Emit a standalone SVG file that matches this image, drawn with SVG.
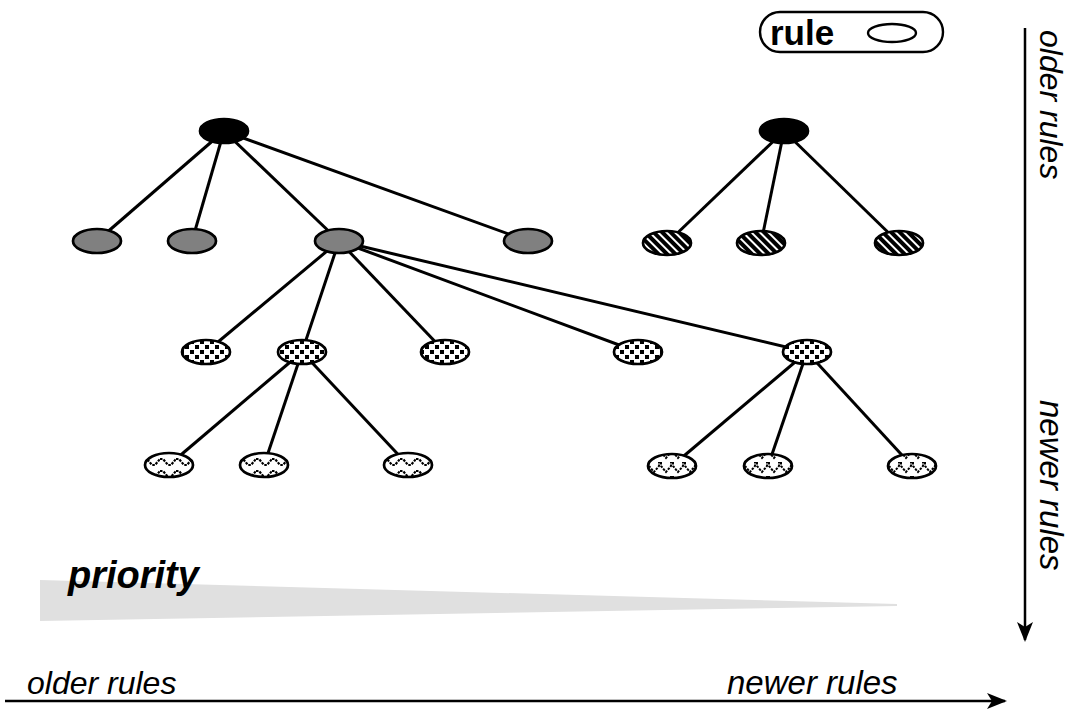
<svg xmlns="http://www.w3.org/2000/svg" width="1070" height="709" viewBox="0 0 1070 709">
<style>
.edge{stroke:#000;stroke-width:3;fill:none}
.n{stroke:#000;stroke-width:2.7}
.lbl{font-family:"Liberation Sans",Arial,sans-serif;font-style:italic;font-size:32px;fill:#000}
</style>
<defs>
<pattern id="hatch" width="6" height="6" patternUnits="userSpaceOnUse" patternTransform="rotate(-45)">
<rect width="6" height="6" fill="#000"/>
<rect x="0" width="2" height="6" fill="#fff"/>
</pattern>
<pattern id="checker" width="10" height="10" patternUnits="userSpaceOnUse">
<rect width="10" height="10" fill="#fff"/>
<rect x="0" y="0" width="4" height="4" fill="#000"/>
<rect x="5" y="5" width="4" height="4" fill="#000"/>
</pattern>
<pattern id="wave" width="16" height="12" patternUnits="userSpaceOnUse">
<rect width="16" height="12" fill="#fff"/>
<path d="M0,3 L3,3 L8,9 L11,9 L16,3" stroke="#000" stroke-width="2.2" fill="none" stroke-dasharray="2.5 1.2"/>
</pattern>
<pattern id="vee" width="12" height="14" patternUnits="userSpaceOnUse">
<rect width="12" height="14" fill="#fff"/>
<path d="M1,0 V4 L6,10 L11,4 V0" stroke="#000" stroke-width="2" fill="none" stroke-dasharray="2.5 1.2"/>
</pattern>
<marker id="arr" viewBox="0 0 20 20" refX="18" refY="10" markerWidth="20" markerHeight="20" markerUnits="userSpaceOnUse" orient="auto">
<path d="M0,2 L20,10 L0,18 L5,10 Z" fill="#000"/>
</marker>
</defs>
<rect width="1070" height="709" fill="#fff"/>

<g id="priority">
<polygon points="40,580 897,604 897,606 40,621" fill="#e0e0e0"/>
<text x="68" y="588" style="font-family:'Liberation Sans',Arial,sans-serif;font-weight:bold;font-style:italic;font-size:38px">priority</text>
</g>

<g id="connectors">
<line class="edge" x1="224" y1="131" x2="97" y2="241"/>
<line class="edge" x1="224" y1="131" x2="192" y2="241"/>
<line class="edge" x1="224" y1="131" x2="339" y2="241"/>
<line class="edge" x1="224" y1="131" x2="528" y2="241"/>
<line class="edge" x1="784" y1="131" x2="667" y2="243"/>
<line class="edge" x1="784" y1="131" x2="761" y2="243"/>
<line class="edge" x1="784" y1="131" x2="899" y2="243"/>
<line class="edge" x1="339" y1="241" x2="206" y2="352"/>
<line class="edge" x1="339" y1="241" x2="302" y2="352"/>
<line class="edge" x1="339" y1="241" x2="445" y2="352"/>
<line class="edge" x1="339" y1="241" x2="638" y2="352"/>
<line class="edge" x1="339" y1="241" x2="807" y2="352"/>
<line class="edge" x1="302" y1="352" x2="169" y2="465"/>
<line class="edge" x1="302" y1="352" x2="264" y2="465"/>
<line class="edge" x1="302" y1="352" x2="408" y2="465"/>
<line class="edge" x1="807" y1="352" x2="672" y2="466"/>
<line class="edge" x1="807" y1="352" x2="768" y2="466"/>
<line class="edge" x1="807" y1="352" x2="912" y2="466"/>
</g>

<g id="root1"><ellipse class="n" cx="224" cy="131" rx="24" ry="12" fill="#000"/></g>
<g id="root2"><ellipse class="n" cx="784" cy="131" rx="24" ry="12" fill="#000"/></g>

<g id="g1"><ellipse class="n" cx="97" cy="241" rx="24" ry="12" fill="#808080"/></g>
<g id="g2"><ellipse class="n" cx="192" cy="241" rx="24" ry="12" fill="#808080"/></g>
<g id="g3"><ellipse class="n" cx="339" cy="241" rx="24" ry="12" fill="#808080"/></g>
<g id="g4"><ellipse class="n" cx="528" cy="241" rx="24" ry="12" fill="#808080"/></g>

<g id="h1"><ellipse class="n" cx="667" cy="243" rx="24" ry="12" fill="url(#hatch)"/></g>
<g id="h2"><ellipse class="n" cx="761" cy="243" rx="24" ry="12" fill="url(#hatch)"/></g>
<g id="h3"><ellipse class="n" cx="899" cy="243" rx="24" ry="12" fill="url(#hatch)"/></g>

<g id="c1"><ellipse class="n" cx="206" cy="352" rx="24" ry="12" fill="url(#checker)"/></g>
<g id="c2"><ellipse class="n" cx="302" cy="352" rx="24" ry="12" fill="url(#checker)"/></g>
<g id="c3"><ellipse class="n" cx="445" cy="352" rx="24" ry="12" fill="url(#checker)"/></g>
<g id="c4"><ellipse class="n" cx="638" cy="352" rx="24" ry="12" fill="url(#checker)"/></g>
<g id="c5"><ellipse class="n" cx="807" cy="352" rx="24" ry="12" fill="url(#checker)"/></g>

<g id="w1"><ellipse class="n" cx="169" cy="465" rx="24" ry="12" fill="url(#wave)"/></g>
<g id="w2"><ellipse class="n" cx="264" cy="465" rx="24" ry="12" fill="url(#wave)"/></g>
<g id="w3"><ellipse class="n" cx="408" cy="465" rx="24" ry="12" fill="url(#wave)"/></g>

<g id="v1"><ellipse class="n" cx="672" cy="466" rx="24" ry="12" fill="url(#vee)"/></g>
<g id="v2"><ellipse class="n" cx="768" cy="466" rx="24" ry="12" fill="url(#vee)"/></g>
<g id="v3"><ellipse class="n" cx="912" cy="466" rx="24" ry="12" fill="url(#vee)"/></g>

<g id="legend">
<rect x="760" y="12" width="183" height="40" rx="20" ry="20" fill="#fff" stroke="#000" stroke-width="2.4"/>
<text x="770" y="45" style="font-family:'Liberation Sans',Arial,sans-serif;font-weight:bold;font-size:35px">rule</text>
<ellipse cx="892" cy="33" rx="24" ry="9" fill="#fff" stroke="#000" stroke-width="2.4"/>
</g>

<g id="axes">
<line x1="1025" y1="28" x2="1025" y2="640" stroke="#000" stroke-width="2.5" marker-end="url(#arr)"/>
<line x1="5" y1="701" x2="1005" y2="701" stroke="#000" stroke-width="2.5" marker-end="url(#arr)"/>
<text class="lbl" x="27" y="694">older rules</text>
<text class="lbl" x="727" y="694" style="font-size:33px">newer rules</text>
<text class="lbl" transform="translate(1040,30) rotate(90)">older rules</text>
<text class="lbl" transform="translate(1040,400) rotate(90)" style="font-size:33px">newer rules</text>
</g>
</svg>
